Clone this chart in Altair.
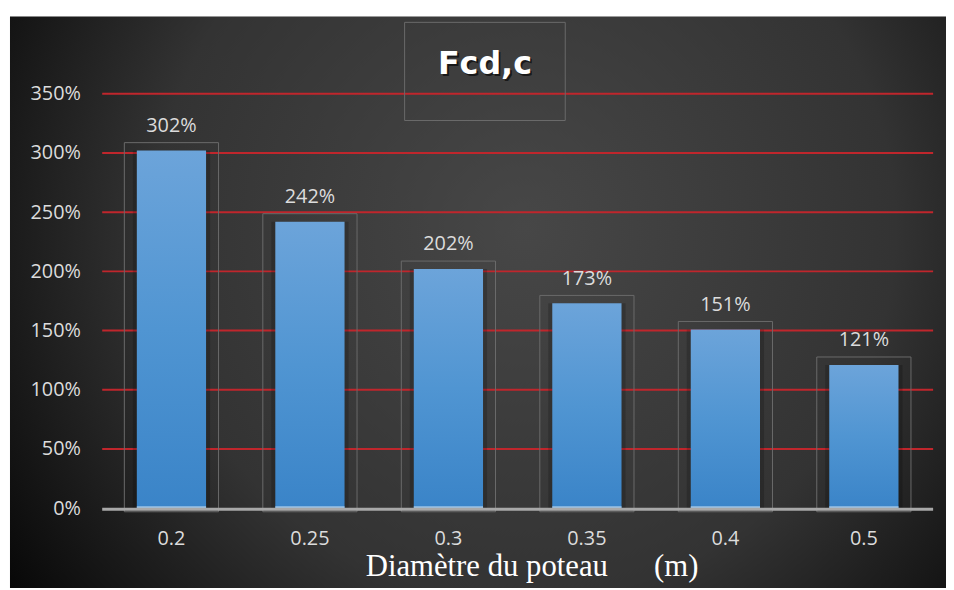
import altair as alt
import pandas as pd

categories = ["0.2", "0.25", "0.3", "0.35", "0.4", "0.5"]
values = [302, 242, 202, 173, 151, 121]
labels = ["302%", "242%", "202%", "173%", "151%", "121%"]
y_ticks = [0, 50, 100, 150, 200, 250, 300, 350]
chart_title = "Fcd,c"
x_title = "Diamètre du poteau\u00a0\u00a0\u00a0\u00a0\u00a0\u00a0(m)"

df = pd.DataFrame({"cat": categories, "val": values, "lab": labels})

W, H = 838, 418
FONT = "Open Sans"
FS = 20

x_enc = alt.X("cat:N", sort=categories,
              scale=alt.Scale(paddingInner=0.5, paddingOuter=0.25),
              axis=alt.Axis(title=x_title, labelAngle=0, labelColor="#dcdcdc",
                            labelFont=FONT, labelFontSize=FS, labelPadding=21,
                            ticks=False, domain=False, grid=False, zindex=2,
                            titleFont="Liberation Serif", titleFontSize=31,
                            titleFontWeight="normal", titleColor="white",
                            titleX=433, titleY=68, titleBaseline="alphabetic",
                            titleAlign="center"))
y_scale = alt.Scale(domain=[0, 350], nice=False)

bg = alt.Chart(alt.Data(values=[{}])).mark_rect(
    fill={"gradient": "radial", "x1": 0.55, "y1": 0.42, "r1": 0,
          "x2": 0.55, "y2": 0.42, "r2": 0.72,
          "stops": [{"offset": 0, "color": "#474747"},
                    {"offset": 0.55, "color": "#333333"},
                    {"offset": 1, "color": "#000000"}]}
).encode(x=alt.value(-93), x2=alt.value(851), y=alt.value(-78), y2=alt.value(500))

grid = alt.Chart(pd.DataFrame({"t": y_ticks[1:]})).mark_rule(
    color="#c0262c", strokeWidth=2).encode(
    y=alt.Y("t:Q", scale=y_scale,
            axis=alt.Axis(values=y_ticks, format="d", labelExpr="datum.value + '%'",
                          labelColor="#dcdcdc", labelFont=FONT, labelFontSize=FS,
                          labelPadding=22, ticks=False, domain=False, grid=False,
                          zindex=2, title=None)),
    x=alt.value(0), x2=alt.value(W))

base = alt.Chart(df)

boxes = base.transform_calculate(top="datum.val + 6.7").mark_bar(
    width=95, fill="transparent", stroke="#6a6a6a", strokeWidth=1).encode(
    x=x_enc, y=alt.Y("top:Q", scale=y_scale), y2=alt.datum(-3))

shadow = base.mark_bar(width=78, color="black", opacity=0.18).encode(
    x=x_enc, y=alt.Y("val:Q", scale=y_scale), y2=alt.datum(0))

bars = base.mark_bar(
    fill={"gradient": "linear", "x1": 0, "y1": 0, "x2": 0, "y2": 1,
          "stops": [{"offset": 0, "color": "#6ca4da"},
                    {"offset": 0.5, "color": "#5095d2"},
                    {"offset": 1, "color": "#3a84c8"}]}
).encode(x=x_enc, y=alt.Y("val:Q", scale=y_scale), y2=alt.datum(0))

bar_foot = base.mark_bar(color="#9cc3e6").encode(
    x=x_enc, y=alt.datum(1.6), y2=alt.datum(0))

text = base.mark_text(dy=-25, baseline="middle", color="#dcdcdc",
                      font=FONT, fontSize=FS).encode(
    x=x_enc, y=alt.Y("val:Q", scale=y_scale), text="lab:N")

baseline = alt.Chart(alt.Data(values=[{}])).mark_rule(
    color="#a8a8a8", strokeWidth=3).encode(
    x=alt.value(0), x2=alt.value(W), y=alt.value(H + 1))

title_box = alt.Chart(alt.Data(values=[{}])).mark_rect(
    fill="transparent", stroke="#6a6a6a", strokeWidth=1).encode(
    x=alt.value(305), x2=alt.value(467), y=alt.value(-72), y2=alt.value(27))

title_shadow = alt.Chart(alt.Data(values=[{"t": chart_title}])).mark_text(
    font="DejaVu Sans", fontSize=32, fontWeight="bold", color="black", opacity=0.6,
    baseline="middle", align="center").encode(
    x=alt.value(388), y=alt.value(-28), text="t:N")

title_text = alt.Chart(alt.Data(values=[{"t": chart_title}])).mark_text(
    font="DejaVu Sans", fontSize=32, fontWeight="bold", color="white",
    baseline="middle", align="center").encode(
    x=alt.value(386), y=alt.value(-30), text="t:N")

chart = alt.layer(bg, grid, shadow, boxes, bars, bar_foot, baseline, text,
                  title_box, title_shadow, title_text).properties(
    width=W, height=H,
    autosize=alt.AutoSizeParams(type="none"),
    padding={"left": 95, "top": 84, "right": 13, "bottom": 78},
    background="white",
).configure_view(stroke=None)

chart.save("out.html", embed_options={"renderer": "svg", "actions": False})
